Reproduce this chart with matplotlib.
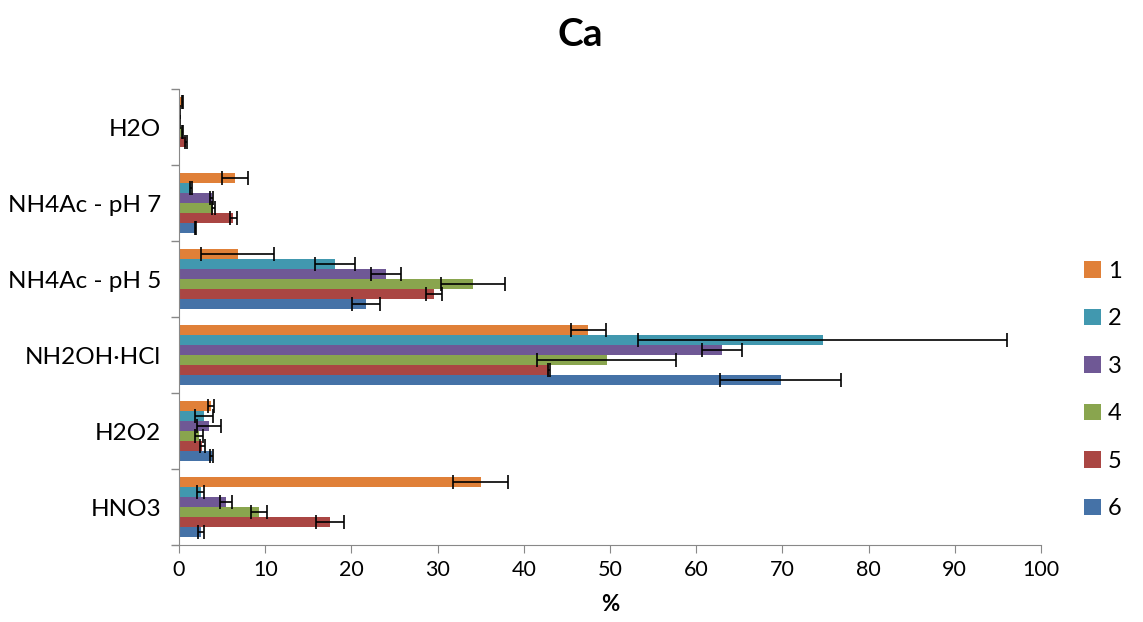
import numpy as np
import matplotlib
matplotlib.use('Agg')
import matplotlib.pyplot as plt
from matplotlib.ticker import FixedLocator

plt.rcParams['font.family'] = ['Lato', 'DejaVu Sans']

# categories bottom -> top
categories = ['HNO3', 'H2O2', 'NH2OH·HCl', 'NH4Ac - pH 5', 'NH4Ac - pH 7', 'H2O']
series = ['1', '2', '3', '4', '5', '6']
colors = ['#E08038', '#4198AF', '#6F5895', '#89A54E', '#AA4643', '#4572A7']

# values per series, in category order above
values = {
    '1': [35.0, 3.7, 47.5, 6.8, 6.5, 0.4],
    '2': [2.5, 2.9, 74.7, 18.1, 1.4, 0.05],
    '3': [5.5, 3.5, 63.0, 24.0, 3.8, 0.1],
    '4': [9.3, 2.3, 49.6, 34.1, 4.0, 0.4],
    '5': [17.5, 2.7, 42.9, 29.6, 6.3, 0.8],
    '6': [2.6, 3.8, 69.8, 21.7, 1.9, 0.0],
}
errors = {
    '1': [3.2, 0.35, 2.0, 4.25, 1.5, 0.1],
    '2': [0.4, 1.0, 21.4, 2.3, 0.1, 0.05],
    '3': [0.7, 1.4, 2.3, 1.7, 0.15, 0.05],
    '4': [0.9, 0.5, 8.1, 3.7, 0.2, 0.1],
    '5': [1.6, 0.27, 0.1, 0.95, 0.4, 0.1],
    '6': [0.35, 0.15, 7.05, 1.6, 0.1, 0.05],
}

fig = plt.figure(figsize=(11.43, 6.22), dpi=100)
ax = fig.add_axes([179 / 1143, 1 - 545 / 622, 862 / 1143, 456 / 622])

y = np.arange(len(categories))
h = 0.131
handles = []
for k, (s, c) in enumerate(zip(series, colors)):
    off = (2.5 - k) * h
    b = ax.barh(y + off, values[s], height=h, color=c, label=s,
                xerr=errors[s], error_kw=dict(ecolor='black', elinewidth=1.2,
                                              capsize=5, capthick=1.2))
    handles.append(b)

ax.set_xlim(0, 100)
ax.set_ylim(-0.5, len(categories) - 0.5)
ax.set_xticks(np.arange(0, 101, 10))
ax.set_yticks(y)
ax.set_yticklabels(categories)
ax.yaxis.set_minor_locator(FixedLocator(np.arange(-0.5, len(categories), 1)))
ax.tick_params(axis='y', which='major', length=0, pad=13, labelsize=17.5)
ax.tick_params(axis='y', which='minor', length=6, color='#888888', width=1)
ax.tick_params(axis='x', which='major', length=6, color='#888888', labelsize=15.5, pad=5)

for sp in ['top', 'right']:
    ax.spines[sp].set_visible(False)
for sp in ['left', 'bottom']:
    ax.spines[sp].set_color('#888888')

ax.set_xlabel('%', fontsize=16, fontweight='bold', labelpad=10)
fig.text(580 / 1143, 1 - 35 / 622, 'Ca', fontsize=28, fontweight='bold',
         ha='center', va='center')

fig.legend(handles, series, loc='center left', bbox_to_anchor=(1063 / 1143, 1 - 390 / 622),
           frameon=False, fontsize=17, handlelength=0.7, handleheight=0.7,
           labelspacing=1.12, handletextpad=0.3)

fig.savefig('out.png', dpi=100)
